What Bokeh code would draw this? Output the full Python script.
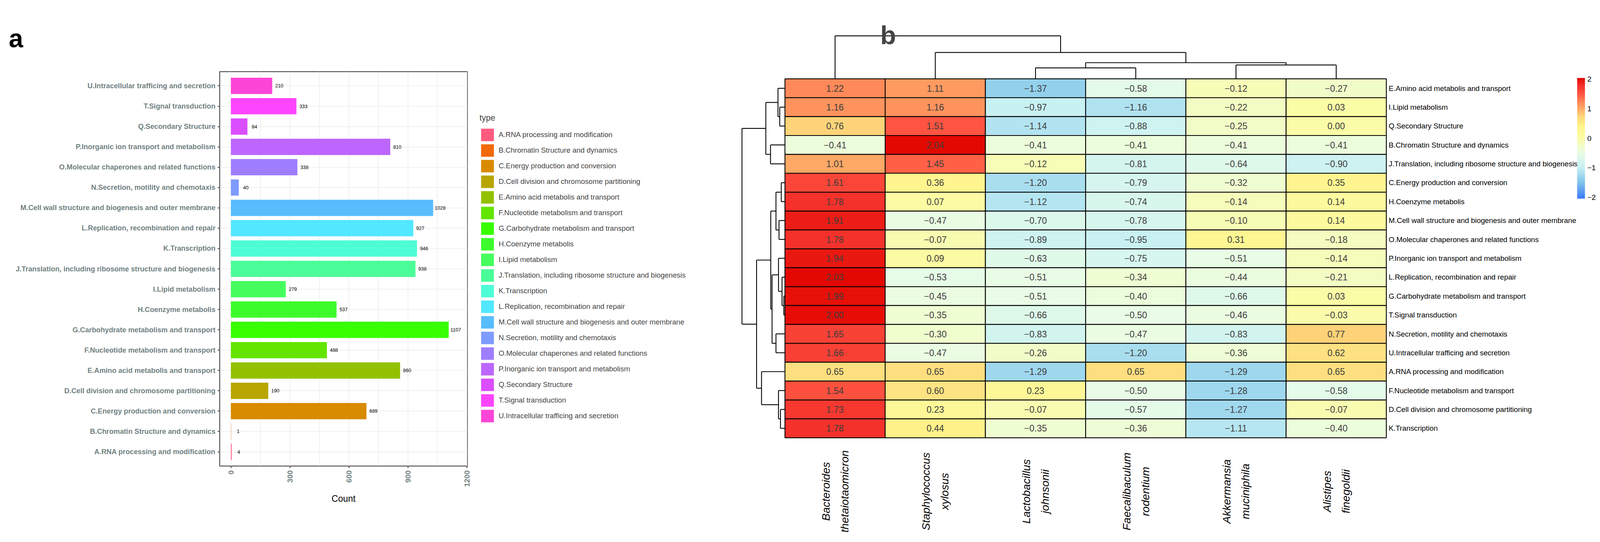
import math
from bokeh.plotting import figure
from bokeh.models import (ColumnDataSource, FactorRange, Range1d, FixedTicker,
                          Legend, LegendItem, LinearColorMapper, ColorBar, Label, Title)
from bokeh.layouts import row
from bokeh.embed import file_html
from bokeh.resources import INLINE
from bokeh.core.properties import value

# ---------------- data: panel a (COG counts) ----------------
cog_names = [
    "A.RNA processing and modification",
    "B.Chromatin Structure and dynamics",
    "C.Energy production and conversion",
    "D.Cell division and chromosome partitioning",
    "E.Amino acid metabolis and transport",
    "F.Nucleotide metabolism and transport",
    "G.Carbohydrate metabolism and transport",
    "H.Coenzyme metabolis",
    "I.Lipid metabolism",
    "J.Translation, including ribosome structure and biogenesis",
    "K.Transcription",
    "L.Replication, recombination and repair",
    "M.Cell wall structure and biogenesis and outer membrane",
    "N.Secretion, motility and chemotaxis",
    "O.Molecular chaperones and related functions",
    "P.Inorganic ion transport and metabolism",
    "Q.Secondary Structure",
    "T.Signal transduction",
    "U.Intracellular trafficing and secretion",
]
cog_counts = [4, 1, 689, 190, 860, 488, 1107, 537, 279, 938, 946, 927, 1028, 40, 338, 810, 84, 333, 210]
cog_colors = ["#ff5a7e", "#f26a0c", "#d98b00", "#b8a500", "#93c100", "#63e500", "#38ff00",
              "#3dfc2c", "#46fd5e", "#4bfd98", "#4dfdd5", "#52e8ff", "#58bdfd", "#7e9bfe",
              "#9e7efd", "#bd66fd", "#db4efd", "#fd45fd", "#fd45d8"]
count_ticks = [0, 300, 600, 900, 1200]
count_minor = [150, 450, 750, 1050]

# ---------------- data: panel b (heatmap) ----------------
species_genus = ["Bacteroides", "Staphylococcus", "Lactobacillus", "Faecalibaculum", "Akkermansia", "Alistipes"]
species_epithet = ["thetaiotaomicron", "xylosus", "johnsonii", "rodentium", "muciniphila", "finegoldii"]
heat_rows = [
    "E.Amino acid metabolis and transport",
    "I.Lipid metabolism",
    "Q.Secondary Structure",
    "B.Chromatin Structure and dynamics",
    "J.Translation, including ribosome structure and biogenesis",
    "C.Energy production and conversion",
    "H.Coenzyme metabolis",
    "M.Cell wall structure and biogenesis and outer membrane",
    "O.Molecular chaperones and related functions",
    "P.Inorganic ion transport and metabolism",
    "L.Replication, recombination and repair",
    "G.Carbohydrate metabolism and transport",
    "T.Signal transduction",
    "N.Secretion, motility and chemotaxis",
    "U.Intracellular trafficing and secretion",
    "A.RNA processing and modification",
    "F.Nucleotide metabolism and transport",
    "D.Cell division and chromosome partitioning",
    "K.Transcription",
]
bacteroides_z = [1.22, 1.16, 0.76, -0.41, 1.01, 1.61, 1.78, 1.91, 1.78, 1.94, 2.03, 1.99, 2.00, 1.65, 1.66, 0.65, 1.54, 1.73, 1.78]
staphylococcus_z = [1.11, 1.16, 1.51, 2.04, 1.45, 0.36, 0.07, -0.47, -0.07, 0.09, -0.53, -0.45, -0.35, -0.30, -0.47, 0.65, 0.60, 0.23, 0.44]
lactobacillus_z = [-1.37, -0.97, -1.14, -0.41, -0.12, -1.20, -1.12, -0.70, -0.89, -0.63, -0.51, -0.51, -0.66, -0.83, -0.26, -1.29, 0.23, -0.07, -0.35]
faecalibaculum_z = [-0.58, -1.16, -0.88, -0.41, -0.81, -0.79, -0.74, -0.78, -0.95, -0.75, -0.34, -0.40, -0.50, -0.47, -1.20, 0.65, -0.50, -0.57, -0.36]
akkermansia_z = [-0.12, -0.22, -0.25, -0.41, -0.64, -0.32, -0.14, -0.10, 0.31, -0.51, -0.44, -0.66, -0.46, -0.83, -0.36, -1.29, -1.28, -1.27, -1.11]
alistipes_z = [-0.27, 0.03, 0.00, -0.41, -0.90, 0.35, 0.14, 0.14, -0.18, -0.14, -0.21, 0.03, -0.03, 0.77, 0.62, 0.65, -0.58, -0.07, -0.40]
species_z = [bacteroides_z, staphylococcus_z, lactobacillus_z, faecalibaculum_z, akkermansia_z, alistipes_z]

# dendrograms: (left id, right id, relative height); leaves numbered in display order
row_merges = [(1, 2, 0.121), (0, 19, 0.162), (3, 4, 0.336), (20, 21, 0.445),
              (5, 6, 0.086), (7, 8, 0.138), (23, 24, 0.209), (11, 12, 0.027),
              (10, 26, 0.068), (9, 27, 0.150), (13, 14, 0.209), (28, 29, 0.300),
              (25, 30, 0.330), (17, 18, 0.104), (16, 32, 0.150), (15, 33, 0.545),
              (31, 34, 0.660), (22, 35, 1.000)]
col_merges = [(2, 3, 0.255), (4, 5, 0.322), (6, 7, 0.376), (1, 8, 0.613), (0, 9, 1.000)]
scale_ticks = [-2, -1, 0, 1, 2]
scale_limit = 2.04

# ---------------- styling ----------------
SANS = "Liberation Sans"
GRAY = "#6f7f80"
DARK = "#333333"
FIG_H = 1372   # page height 1388 with the 8px margins: no scrollbar

# ================= panel a =================
src_a = ColumnDataSource(dict(name=cog_names, count=cog_counts, color=cog_colors,
                              label=[str(c) for c in cog_counts]))
pa = figure(y_range=FactorRange(factors=cog_names, range_padding=0.2, range_padding_units="absolute"),
            x_range=Range1d(-56.8, 1202),
            width=1222, height=FIG_H,
            min_border_left=562, min_border_right=26, min_border_top=183, min_border_bottom=FIG_H - 183 - 1010,
            frame_align=False, output_backend="svg", toolbar_location=None)
bars = pa.hbar(y="name", right="count", left=0, height=0.8, fill_color="color",
               line_color=None, source=src_a)
pa.text(x="count", y="name", text="label", source=src_a, x_offset=18,
        text_align="center", text_baseline="middle", text_font=value(SANS),
        text_font_size="12.5px", text_color="black")

pa.outline_line_color = DARK
pa.outline_line_width = 2
pa.xgrid.grid_line_color = "#ebebeb"
pa.xgrid.grid_line_width = 1.5
pa.xgrid.minor_grid_line_color = "#ebebeb"
pa.xgrid.minor_grid_line_width = 1.5
pa.ygrid.grid_line_color = "#ebebeb"
pa.ygrid.grid_line_width = 1.5

pa.xaxis.ticker = FixedTicker(ticks=count_ticks, minor_ticks=count_minor)
pa.xaxis.major_label_orientation = math.pi / 2
pa.xaxis.major_label_text_font = SANS
pa.xaxis.major_label_text_font_style = "bold"
pa.xaxis.major_label_text_font_size = "19px"
pa.xaxis.major_label_text_color = GRAY
pa.xaxis.major_label_standoff = 6
pa.xaxis.minor_tick_line_color = None
pa.xaxis.axis_label = "Count"
pa.xaxis.axis_label_text_font = SANS
pa.xaxis.axis_label_text_font_style = "normal"
pa.xaxis.axis_label_text_font_size = "23px"
pa.xaxis.axis_label_text_color = "black"
pa.xaxis.axis_label_standoff = 14

pa.yaxis.major_label_text_font = SANS
pa.yaxis.major_label_text_font_style = "bold"
pa.yaxis.major_label_text_font_size = "18.2px"
pa.yaxis.major_label_text_color = GRAY
pa.yaxis.major_label_standoff = 6

for ax in (pa.xaxis, pa.yaxis):
    ax.axis_line_color = None
    ax.major_tick_line_color = DARK
    ax.major_tick_line_width = 2
    ax.major_tick_out = 5
    ax.major_tick_in = 0

pa.title = Title(text="a", align="left", offset=-540, standoff=97, text_font=SANS,
                 text_font_style="bold", text_font_size="66px", text_color="black")

# ================= panel b =================
n_rows = len(heat_rows)
n_cols = len(species_genus)
ROW_TREE = 0.4287   # tree height in column units
COL_TREE = 2.274    # tree height in row units
PB_W, PB_H = 2934, FIG_H - 8          # frame size in px
XS, YS = 256.59, 48.38                # px per column / per row
X0 = -3.067
X1 = X0 + PB_W / XS
Y1 = 22.997
Y0 = Y1 - PB_H / YS

heat_stops = [(-2.04, "#3b7bf7"), (-1.5, "#80c4ea"), (-1.0, "#c6f0f3"), (-0.5, "#e9fde6"),
              (0.0, "#fbfca8"), (0.4, "#fff48c"), (0.75, "#fdd67a"), (1.0, "#feab66"),
              (1.2, "#ff8d5b"), (1.5, "#ff5642"), (1.8, "#f3302a"), (2.04, "#e30800")]


def _hex2rgb(h):
    return tuple(int(h[i:i + 2], 16) for i in (1, 3, 5))


palette = []
for k in range(256):
    v = -scale_limit + 2 * scale_limit * k / 255
    for (v0, c0), (v1, c1) in zip(heat_stops[:-1], heat_stops[1:]):
        if v0 <= v <= v1 + 1e-9:
            t = (v - v0) / (v1 - v0)
            a, b = _hex2rgb(c0), _hex2rgb(c1)
            palette.append("#%02x%02x%02x" % tuple(round(a[i] + (b[i] - a[i]) * t) for i in range(3)))
            break
mapper = LinearColorMapper(palette=palette, low=-scale_limit, high=scale_limit)

cx, cy, cv, cl = [], [], [], []
for j in range(n_cols):
    for i in range(n_rows):
        z = species_z[j][i]
        cx.append(j + 0.5)
        cy.append(n_rows - i - 0.5)
        cv.append(z)
        cl.append(("%.2f" % z).replace("-", "\u2212"))
src_b = ColumnDataSource(dict(x=cx, y=cy, v=cv, lab=cl))

# frame of panel b spans its whole canvas: it also hosts the COG legend of panel a,
# the row labels and the colour scale
pb = figure(x_range=Range1d(X0, X1), y_range=Range1d(Y0, Y1),
            width=PB_W, height=FIG_H,
            min_border_left=0, min_border_right=0, min_border_top=8, min_border_bottom=0,
            x_axis_type=None, y_axis_type=None, frame_align=False,
            output_backend="svg", toolbar_location=None)
pb.outline_line_color = None
pb.rect(x="x", y="y", width=1, height=1, source=src_b,
        fill_color={"field": "v", "transform": mapper}, line_color="black", line_width=2.2)
pb.text(x="x", y="y", text="lab", source=src_b, text_align="center", text_baseline="middle",
        text_font=value(SANS), text_font_size="23px", text_color="#3d3d3d")


def dendro_segments(n_leaves, merges):
    pos = {i: float(i) for i in range(n_leaves)}
    hgt = {i: 0.0 for i in range(n_leaves)}
    segs = []
    for k, (a, b, h) in enumerate(merges):
        segs.append((pos[a], hgt[a], pos[a], h))
        segs.append((pos[b], hgt[b], pos[b], h))
        segs.append((pos[a], h, pos[b], h))
        pos[n_leaves + k] = (pos[a] + pos[b]) / 2
        hgt[n_leaves + k] = h
    return segs


rs = dendro_segments(n_rows, row_merges)
pb.segment(x0=[-s[1] * ROW_TREE for s in rs], y0=[n_rows - 0.5 - s[0] for s in rs],
           x1=[-s[3] * ROW_TREE for s in rs], y1=[n_rows - 0.5 - s[2] for s in rs],
           line_color="black", line_width=2.2)
cs = dendro_segments(n_cols, col_merges)
pb.segment(x0=[s[0] + 0.5 for s in cs], y0=[n_rows + s[1] * COL_TREE for s in cs],
           x1=[s[2] + 0.5 for s in cs], y1=[n_rows + s[3] * COL_TREE for s in cs],
           line_color="black", line_width=2.2)

# column labels (species), rotated
pb.text(x=[j + 0.5 for j in range(n_cols)], y=[-2.84] * n_cols,
        text=[g + "\n" + e for g, e in zip(species_genus, species_epithet)],
        angle=math.pi / 2, text_align="center", text_baseline="middle",
        text_font=value(SANS), text_font_style="italic", text_font_size="28.5px",
        text_line_height=1.5, text_color="black")

# row labels (COG categories) at the right of the heatmap
row_centers = [n_rows - i - 0.5 for i in range(n_rows)]
pb.text(x=[n_cols] * n_rows, y=row_centers, text=heat_rows, x_offset=6,
        text_align="left", text_baseline="middle", text_font=value(SANS),
        text_font_size="18.8px", text_color="black")

# colour scale: gradient bar from ColorBar, tick labels placed on the same mapping
CB_LEFT, CB_W, CB_H = 2815, 20, 309              # px, relative to frame left
CB_BOTTOM = (19 - Y0) * YS - (516.2 - 209.4)      # px above frame bottom
cbar = ColorBar(color_mapper=mapper, ticker=FixedTicker(ticks=[]),
                width=CB_W, height=CB_H, location=(CB_LEFT, CB_BOTTOM), padding=0, margin=0,
                major_tick_line_color=None, minor_tick_line_color=None, bar_line_color=None,
                border_line_color=None, background_fill_alpha=0)
pb.add_layout(cbar)
cb_label_x = X0 + (CB_LEFT + CB_W) / XS
cb_label_y = [Y0 + (CB_BOTTOM + (t + scale_limit) / (2 * scale_limit) * CB_H) / YS for t in scale_ticks]
pb.text(x=[cb_label_x] * len(scale_ticks), y=cb_label_y,
        text=[str(t).replace("-", "\u2212") for t in scale_ticks], x_offset=6,
        text_align="left", text_baseline="middle", text_font=value(SANS),
        text_font_size="19px", text_color="black")

pb.add_layout(Label(x=1031, y=PB_H - 117 + 16 + 20, x_units="screen", y_units="screen", text="b",
                    text_font=SANS, text_font_style="bold", text_font_size="66px",
                    text_baseline="alphabetic"))

# COG legend keys (same categories / colours as the bars of panel a), drawn off-range
key_src = ColumnDataSource(dict(y=[-1000] * len(cog_names), count=cog_counts, color=cog_colors))
keys = pb.hbar(y="y", right="count", left=0, height=0.1, fill_color="color",
               line_color=None, source=key_src)
legend = Legend(items=[LegendItem(label=value(n), renderers=[keys], index=i) for i, n in enumerate(cog_names)],
                location=(5.4, (19 - Y0) * YS - (1093.5 - 209.4)), title="type", title_text_font=SANS,
                title_text_font_size="21.5px", title_text_font_style="normal", title_standoff=10,
                label_text_font=SANS, label_text_font_size="18.6px",
                glyph_width=41, glyph_height=40, label_height=40, spacing=0,
                label_standoff=8, padding=0, margin=0,
                border_line_color=None, background_fill_alpha=0)
pb.add_layout(legend)

layout = row(pa, pb)
open("out.html", "w").write(file_html(layout, INLINE))
